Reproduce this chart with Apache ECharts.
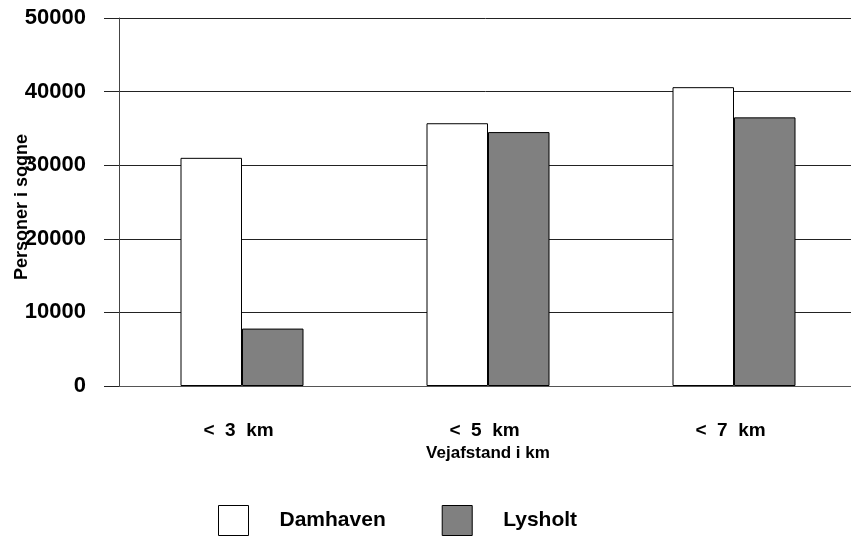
<!DOCTYPE html>
<html>
<head>
<meta charset="utf-8">
<script src="https://cdn.jsdelivr.net/npm/echarts@6/dist/echarts.min.js"></script>
<style>html,body{margin:0;padding:0;background:#fff}#c{width:851px;height:536px}</style>
</head>
<body>
<div id="c"></div>
<script>
var categories = ['<  3  km', '<  5  km', '<  7  km'];
var damhaven = [31000, 35700, 40600];
var lysholt = [7800, 34500, 36500];
var seriesNames = ['Damhaven', 'Lysholt'];

var chart = echarts.init(document.getElementById('c'));
var font = '"Liberation Sans", Arial, sans-serif';
chart.setOption({
  animation: false,
  backgroundColor: '#fff',
  grid: { left: 119, width: 738, top: 18, height: 368, outerBoundsMode: 'none', containLabel: false },
  legend: {
    top: 500, left: 213,
    icon: 'rect',
    itemWidth: 30, itemHeight: 30, itemGap: 56,
    itemStyle: { borderColor: '#000', borderWidth: 1 },
    textStyle: { fontFamily: font, fontWeight: 'bold', fontSize: 21, color: '#000', padding: [0, 0, 0, 26] },
    data: seriesNames
  },
  xAxis: {
    type: 'category',
    data: categories,
    name: 'Vejafstand i km',
    nameLocation: 'middle',
    nameGap: 59,
    nameMoveOverlap: false,
    nameTextStyle: { fontFamily: font, fontWeight: 'bold', fontSize: 17, color: '#000' },
    axisLine: { lineStyle: { color: '#555', width: 1 } },
    axisTick: { alignWithLabel: true, length: 15, lineStyle: { color: '#555' } },
    axisLabel: { fontFamily: font, fontWeight: 'bold', fontSize: 19, color: '#000', margin: 35, padding: [0, 7, 0, 0] }
  },
  yAxis: {
    type: 'value',
    min: 0, max: 50000, interval: 10000,
    name: 'Personer i sogne',
    nameLocation: 'middle',
    nameGap: 88,
    nameMoveOverlap: false,
    nameTextStyle: { fontFamily: font, fontWeight: 'bold', fontSize: 18, color: '#000', padding: [0, 10, 0, 0] },
    axisLine: { show: true, lineStyle: { color: '#444', width: 1 } },
    axisTick: { show: true, length: 15, lineStyle: { color: '#222' } },
    axisLabel: { fontFamily: font, fontWeight: 'bold', fontSize: 22, color: '#000', margin: 33,
      formatter: function (v) { return String(v); } },
    splitLine: { lineStyle: { color: '#222', width: 1 } }
  },
  series: [
    { name: seriesNames[0], type: 'bar', data: damhaven, barGap: '0%', barCategoryGap: '50%',
      itemStyle: { color: '#ffffff', borderColor: '#000', borderWidth: 1 } },
    { name: seriesNames[1], type: 'bar', data: lysholt, barGap: '0%', barCategoryGap: '50%',
      itemStyle: { color: '#808080', borderColor: '#000', borderWidth: 1 } }
  ]
});
</script>
</body>
</html>
